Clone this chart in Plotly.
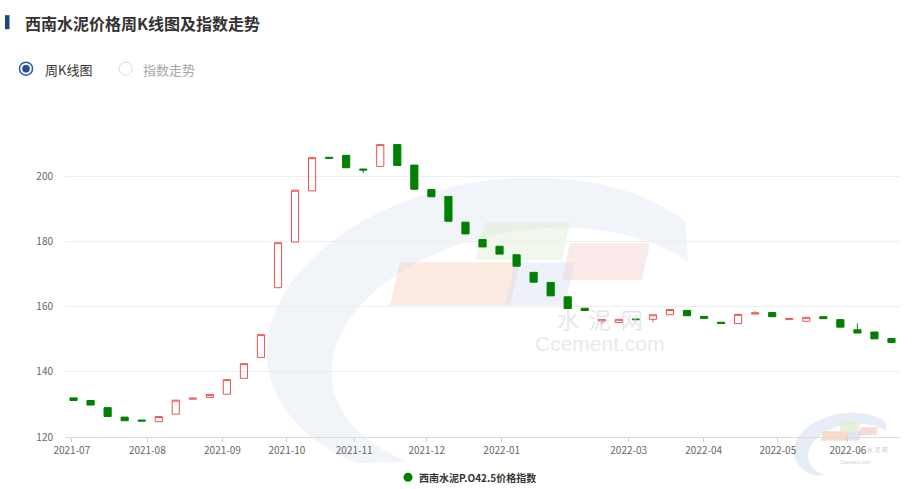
import numpy as np
import plotly.graph_objects as go

# ---------------- data ----------------
weeks = list(range(49))  # weekly candles, 2021-07 .. 2022-06
opens = [132.0, 131.2, 129.0, 126.1, 125.2, 124.7, 127.0, 131.6, 132.1, 133.1,
         138.0, 144.4, 165.8, 179.8, 195.5, 205.8, 206.4, 202.2, 203.0, 209.7,
         203.4, 195.9, 193.8, 185.9, 180.6, 178.5, 175.9, 170.5, 167.4, 163.0,
         159.5, 155.6, 155.1, 156.2, 156.1, 157.5, 158.8, 157.0, 155.2, 154.8,
         157.7, 158.2, 156.0, 155.5, 156.9, 156.0, 152.9, 152.2, 150.2]
closes = [131.2, 129.8, 126.3, 125.0, 124.9, 126.3, 131.3, 131.9, 133.0, 137.6,
          142.5, 151.4, 179.6, 195.7, 205.7, 205.5, 202.6, 201.9, 209.7, 203.3,
          196.0, 193.7, 186.2, 182.3, 178.3, 176.1, 172.4, 167.5, 163.3, 159.4,
          158.8, 156.0, 156.1, 156.0, 157.5, 159.1, 157.2, 156.4, 154.8, 157.6,
          158.1, 156.9, 156.3, 156.7, 156.3, 153.7, 151.9, 150.1, 149.0]
highs = [132.0, 131.2, 129.0, 126.1, 125.2, 126.3, 131.3, 131.9, 133.0, 137.6,
         142.5, 151.4, 179.6, 195.7, 205.7, 205.8, 206.4, 202.2, 209.7, 209.7,
         203.4, 195.9, 193.8, 185.9, 180.6, 178.5, 175.9, 170.5, 167.4, 163.0,
         159.5, 156.0, 156.1, 156.2, 157.5, 159.1, 158.8, 157.0, 155.2, 157.9,
         158.6, 158.2, 156.3, 156.7, 156.9, 156.0, 154.8, 152.2, 150.2]
lows = [131.2, 129.8, 126.3, 125.0, 124.9, 124.7, 127.0, 131.6, 132.1, 133.1,
        138.0, 144.4, 165.8, 179.8, 195.5, 205.5, 202.6, 201.0, 203.0, 203.3,
        196.0, 193.7, 186.2, 182.3, 178.3, 176.1, 172.4, 167.5, 163.3, 159.4,
        158.8, 154.6, 155.1, 156.0, 155.2, 157.5, 157.2, 156.4, 154.8, 154.8,
        157.7, 156.9, 156.0, 155.5, 156.3, 153.7, 151.9, 150.1, 149.0]
month_labels = ["2021-07", "2021-08", "2021-09", "2021-10", "2021-11", "2021-12",
                "2022-01", "2022-03", "2022-04", "2022-05", "2022-06"]
y_ticks = [120, 140, 160, 180, 200, 220]
series_name = "西南水泥P.O42.5价格指数"
title_text = "西南水泥价格周K线图及指数走势"

# axis label positions (in candle-index units)
month_pos = [-0.10, 4.33, 8.74, 12.52, 16.47, 20.73, 25.13, 32.58, 36.98, 41.33, 45.44]

UP = "#eb5454"
DOWN = "#008000"
FONT = "Noto Sans CJK SC"

W, H = 912, 489
L, R, T, B = 65, 900, 110.8, 436.7


def px(x):
    return (x - L) / (R - L)


def py(y):
    return (B - y) / (B - T)


fig = go.Figure()
fig.add_trace(go.Candlestick(
    x=weeks, open=opens, high=highs, low=lows, close=closes,
    name=series_name,
    increasing=dict(line=dict(color=UP, width=1), fillcolor="rgba(255,255,255,0)"),
    decreasing=dict(line=dict(color=DOWN, width=1), fillcolor=DOWN),
    whiskerwidth=0,
    showlegend=False,
))

shapes = []
annotations = []


def poly_path(pts):
    return "M " + " L ".join(f"{px(x):.5f},{py(y):.5f}" for x, y in pts) + " Z"


def ellipse_pts(cx, cy, rx, ry, phi, t0, t1, n=80):
    ts = np.linspace(t0, t1, n)
    out = []
    for t in ts:
        dx = rx * np.cos(t)
        dy = -ry * np.sin(t)
        out.append((cx + dx * np.cos(phi) - dy * np.sin(phi),
                    cy + dx * np.sin(phi) + dy * np.cos(phi)))
    return out


def add_logo(cx, cy, s, alpha, ring_alpha):
    phi = -0.16
    outer = ellipse_pts(cx, cy, 235 * s, 150 * s, phi, 3.95, 0.55)
    inner = ellipse_pts(cx + 30 * s, cy + 22 * s, 200 * s, 122 * s, phi, 0.55, 3.95)
    shapes.append(dict(type="path", xref="paper", yref="paper", layer="below",
                       path=poly_path(outer + inner),
                       fillcolor=f"rgba(214,225,242,{ring_alpha})", line=dict(width=0)))
    quads = [
        ([(-100, -68), (20, -68), (10, -25), (-110, -25)], (248, 205, 185)),
        ([(-15, -108), (70, -108), (62, -70), (-25, -70)], (222, 236, 205)),
        ([(15, -68), (75, -68), (65, -25), (5, -25)], (212, 222, 240)),
        ([(70, -87), (150, -87), (142, -50), (62, -50)], (246, 205, 205)),
    ]
    for q, col in quads:
        pts = [(cx + a * s, cy + b * s) for a, b in q]
        shapes.append(dict(type="path", xref="paper", yref="paper", layer="below",
                           path=poly_path(pts),
                           fillcolor=f"rgba({col[0]},{col[1]},{col[2]},{alpha})",
                           line=dict(width=0)))


add_logo(500, 330, 1.0, 0.42, 0.35)
add_logo(845, 446, 0.22, 0.75, 0.6)

annotations.append(dict(text="水  泥  网", x=px(600), y=py(318), xref="paper", yref="paper",
                        showarrow=False, font=dict(family=FONT, size=22, color="rgba(200,208,220,0.5)")))
annotations.append(dict(text="Ccement.com", x=px(600), y=py(357), xref="paper", yref="paper",
                        showarrow=False, font=dict(family="Arial, Liberation Sans", size=21,
                                                   color="rgba(205,212,222,0.5)")))
annotations.append(dict(text="水 泥 网", x=px(889), y=py(455), xref="paper", yref="paper",
                        showarrow=False, borderpad=0,
                        font=dict(family=FONT, size=6, color="rgba(170,180,195,0.7)")))
annotations.append(dict(text="Ccement.com", x=px(872), y=py(466), xref="paper", yref="paper",
                        showarrow=False, borderpad=0,
                        font=dict(family="Arial, Liberation Sans", size=5,
                                  color="rgba(170,180,195,0.7)")))

# title bar + title
shapes.append(dict(type="rect", xref="paper", yref="paper", x0=px(5), x1=px(9.5), y0=py(29), y1=py(15),
                   fillcolor="#1a4788", line=dict(width=0)))
annotations.append(dict(text="<b>" + title_text + "</b>", x=px(23), y=py(22.5), xref="paper", yref="paper",
                        xanchor="left", yanchor="middle", showarrow=False,
                        font=dict(family=FONT, size=16, color="#333333")))


def circle(cx, cy, r, fill, line_color, lw):
    shapes.append(dict(type="circle", xref="paper", yref="paper",
                       x0=px(cx - r), x1=px(cx + r), y0=py(cy + r), y1=py(cy - r),
                       fillcolor=fill, line=dict(color=line_color, width=lw)))


# radio buttons
circle(26, 68.5, 6.5, "white", "#2b5aa3", 1.5)
circle(26, 68.5, 3.6, "#1f4f9e", "#1f4f9e", 0.5)
circle(125.5, 68.5, 6.5, "white", "#dcdcdc", 1)
annotations.append(dict(text="周K线图", x=px(43), y=py(69), xref="paper", yref="paper",
                        xanchor="left", yanchor="middle", showarrow=False,
                        font=dict(family=FONT, size=13, color="#333333")))
annotations.append(dict(text="指数走势", x=px(141), y=py(69), xref="paper", yref="paper",
                        xanchor="left", yanchor="middle", showarrow=False,
                        font=dict(family=FONT, size=13, color="#a6a6a6")))

# bottom legend
circle(408, 477, 4.5, DOWN, DOWN, 0)
annotations.append(dict(text="<b>" + series_name + "</b>", x=px(417), y=py(477.5), xref="paper", yref="paper",
                        xanchor="left", yanchor="middle", showarrow=False,
                        font=dict(family=FONT, size=10, color="#333333")))

fig.update_layout(
    width=W, height=H,
    margin=dict(l=L, r=W - R, t=T, b=H - B, pad=0),
    paper_bgcolor="white", plot_bgcolor="white",
    boxgap=0.4,
    showlegend=False,
    shapes=shapes,
    annotations=annotations,
    font=dict(family=FONT, color="#666666", size=10),
    xaxis=dict(
        range=[-0.5, 48.5], rangeslider=dict(visible=False),
        tickmode="array", tickvals=month_pos, ticktext=month_labels,
        ticks="outside", ticklen=4, tickcolor="#d0d0d0",
        showgrid=False, zeroline=False,
        showline=True, linecolor="#dcdcdc", linewidth=1,
        tickfont=dict(family=FONT, size=10, color="#666666"),
    ),
    yaxis=dict(
        range=[120, 220], tickmode="array", tickvals=y_ticks,
        ticktext=[str(v) if v < 220 else "" for v in y_ticks],
        showgrid=True, gridcolor="#eeeeee", gridwidth=1,
        zeroline=False, showline=False, ticks="",
        ticklabelstandoff=11,
        tickfont=dict(family=FONT, size=10, color="#666666"),
    ),
)

fig.write_html("out.html", config={"displayModeBar": False},
               post_script="document.body.style.margin='0px';")
